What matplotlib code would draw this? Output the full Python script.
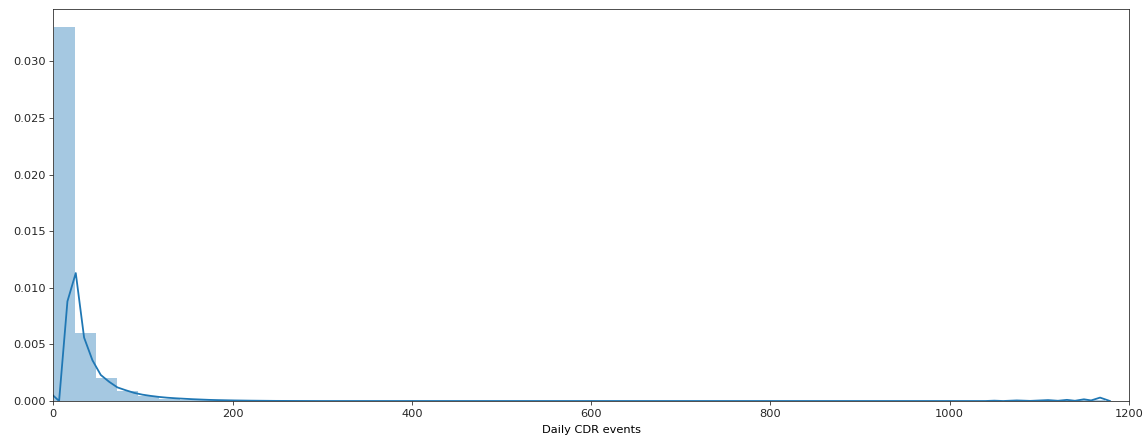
import numpy as np
import matplotlib
matplotlib.use('Agg')
import matplotlib.pyplot as plt

plt.rcParams['font.size'] = 11.4

# histogram of daily CDR events (density), 50 bins
bin_lo = 0.5
bin_hi = 1173.0
bin_density = [0.03306, 0.00603, 0.00200, 0.00088, 0.00040, 0.00022, 0.00013, 0.00008,
               0.00005, 0.00004, 0.00003, 0.00002, 0.00002, 0.00001, 0.00001, 0.00001,
               0.00001, 0.00001, 0.00001, 0.0, 0.0, 0.0, 0.0, 0.0, 0.0, 0.0, 0.0, 0.0,
               0.0, 0.0, 0.0, 0.0, 0.0, 0.0, 0.0, 0.0, 0.0, 0.0, 0.0, 0.0, 0.0, 0.0,
               0.00001, 0.00001, 0.00002, 0.00002, 0.00003, 0.00004, 0.00006, 0.00010]

# kde curve
kde_x = [-2.9, 6.4, 15.7, 25.0, 34.3, 43.6, 52.9, 62.2, 71.5, 80.8, 90.1, 99.4,
         108.7, 118.0, 127.3, 136.6, 145.9, 155.2, 164.5, 173.8, 183.1, 201.7,
         220.3, 248.2, 300.0, 1040.0, 1050.0, 1060.0, 1075.0, 1090.0, 1110.0,
         1121.0, 1131.0, 1140.0, 1150.0, 1158.0, 1168.0, 1179.0]
kde_y = [0.00068, 0.0, 0.0088, 0.0113, 0.0056, 0.0036, 0.0023, 0.0017, 0.0012,
         0.00095, 0.00072, 0.00056, 0.00045, 0.00036, 0.00029, 0.00024, 0.00020,
         0.00016, 0.00013, 0.00010, 0.00008, 0.00005, 0.00003, 0.00001, 0.0,
         0.0, 0.00003, 0.0, 0.00005, 0.00001, 0.00008, 0.00002, 0.00010, 0.00002,
         0.00015, 0.00005, 0.00030, 0.0]

edges = np.linspace(bin_lo, bin_hi, len(bin_density) + 1)

fig = plt.figure(figsize=(1145 / 72, 441 / 72), dpi=72)
ax = fig.add_axes([0.0466, 0.0907, 0.9392, 0.8896])

ax.bar(edges[:-1], bin_density, width=np.diff(edges), align='edge',
       color='#1f77b4', alpha=0.4, linewidth=0)
ax.plot(kde_x, kde_y, color='#1f77b4', linewidth=1.8)

ax.set_xlim(0, 1200)
ax.set_ylim(0, 0.03465)
ax.set_yticks([0.0, 0.005, 0.010, 0.015, 0.020, 0.025, 0.030])
ax.yaxis.set_major_formatter(matplotlib.ticker.FormatStrFormatter('%.3f'))
ax.set_xlabel('Daily CDR events', labelpad=6)
for s in ax.spines.values():
    s.set_color('#262626')
ax.tick_params(colors='#262626', labelcolor='#262626', length=4)

fig.savefig('out.png', dpi=72)
